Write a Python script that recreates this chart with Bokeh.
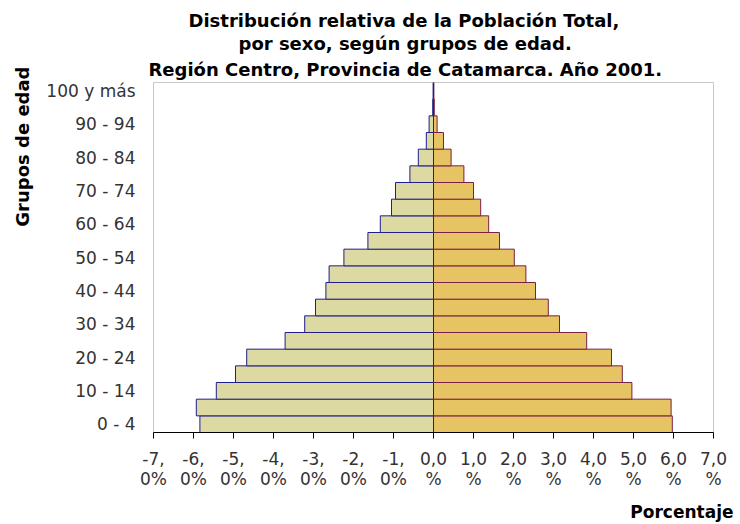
from bokeh.plotting import figure
from bokeh.models import FixedTicker, Title, ColumnDataSource
from bokeh.embed import file_html
from bokeh.resources import INLINE

ages = ["0 - 4", "5 - 9", "10 - 14", "15 - 19", "20 - 24", "25 - 29", "30 - 34",
        "35 - 39", "40 - 44", "45 - 49", "50 - 54", "55 - 59", "60 - 64", "65 - 69",
        "70 - 74", "75 - 79", "80 - 84", "85 - 89", "90 - 94", "95 - 99", "100 y más"]
varones = [5.84, 5.93, 5.43, 4.95, 4.67, 3.71, 3.22, 2.95, 2.69, 2.61, 2.24,
           1.64, 1.33, 1.05, 0.95, 0.59, 0.38, 0.18, 0.11, 0.02, 0.01]
mujeres = [5.97, 5.94, 4.96, 4.72, 4.45, 3.83, 3.15, 2.87, 2.55, 2.31, 2.02,
           1.65, 1.38, 1.18, 1.00, 0.76, 0.44, 0.25, 0.09, 0.02, 0.01]
x_ticks = [-7, -6, -5, -4, -3, -2, -1, 0, 1, 2, 3, 4, 5, 6, 7]
x_tick_labels = ["-7,\n0%", "-6,\n0%", "-5,\n0%", "-4,\n0%", "-3,\n0%", "-2,\n0%", "-1,\n0%",
                 "0,0\n%", "1,0\n%", "2,0\n%", "3,0\n%", "4,0\n%", "5,0\n%", "6,0\n%", "7,0\n%"]
title_lines = ["Distribución relativa de la Población Total,",
               "por sexo, según grupos de edad.",
               "Región Centro, Provincia de Catamarca. Año 2001."]

idx = list(range(len(ages)))
src = ColumnDataSource(dict(
    y=idx,
    m_left=[-v for v in varones],
    zero=[0] * len(idx),
    f_right=mujeres,
))

p = figure(width=740, height=524, output_backend="svg", toolbar_location=None,
           x_range=(-7, 7), y_range=(-0.5, 20.5),
           min_border_left=153, min_border_right=27, min_border_top=82, min_border_bottom=92)
p.background_fill_color = "white"
p.border_fill_color = "white"
p.outline_line_color = "#c8c8c8"
p.xgrid.grid_line_color = None
p.ygrid.grid_line_color = None

p.hbar(y="y", left="zero", right="f_right", height=1, source=src,
       fill_color="#E6C464", line_color="#7A1F45", line_width=1)
p.hbar(y="y", left="m_left", right="zero", height=1, source=src,
       fill_color="#DDD9A3", line_color="#1E1E8C", line_width=1)

# x axis
p.xaxis.ticker = FixedTicker(ticks=x_ticks)
p.xaxis.major_label_overrides = {t: l for t, l in zip(x_ticks, x_tick_labels)}
p.xaxis.axis_line_color = "black"
p.xaxis.major_tick_line_color = "black"
p.xaxis.major_tick_out = 6
p.xaxis.major_tick_in = 0
p.xaxis.minor_tick_line_color = None
p.xaxis.major_label_text_font = "DejaVu Sans"
p.xaxis.major_label_text_font_size = "17px"
p.xaxis.major_label_text_line_height = 1.0
p.xaxis.major_label_text_color = "#333333"
p.xaxis.major_label_standoff = 10
p.xaxis.axis_label = " "
p.xaxis.axis_label_text_font_size = "1px"
p.xaxis.axis_label_standoff = 6

# y axis
y_ticks = list(range(0, 21, 2))
p.yaxis.ticker = FixedTicker(ticks=y_ticks)
p.yaxis.major_label_overrides = {i: ages[i] for i in y_ticks}
p.yaxis.axis_line_color = None
p.yaxis.major_tick_line_color = None
p.yaxis.minor_tick_line_color = None
p.yaxis.major_tick_out = 0
p.yaxis.major_tick_in = 0
p.yaxis.major_label_text_font = "DejaVu Sans"
p.yaxis.major_label_text_font_size = "17px"
p.yaxis.major_label_text_color = "#333333"
p.yaxis.major_label_standoff = 18
p.yaxis.axis_label = " "
p.yaxis.axis_label_text_font_size = "1px"
p.yaxis.axis_label_standoff = 7

# titles (added from the plot outward)
for txt, off, so in zip(reversed(title_lines), [-5, 85, 35], [6, 0, 0]):
    p.add_layout(Title(text=txt, align="left", offset=off, standoff=so,
                       text_font="DejaVu Sans", text_font_style="bold",
                       text_font_size="18px", text_color="black"), "above")

p.add_layout(Title(text="Grupos de edad", align="right", offset=-16, standoff=0,
                   text_font="DejaVu Sans", text_font_style="bold",
                   text_font_size="18px", text_color="black"), "left")
p.add_layout(Title(text="Porcentaje", align="right", offset=-20, standoff=0,
                   vertical_align="top",
                   text_font="DejaVu Sans", text_font_style="bold",
                   text_font_size="17px", text_color="black"), "below")

open("out.html", "w").write(file_html(p, INLINE))
